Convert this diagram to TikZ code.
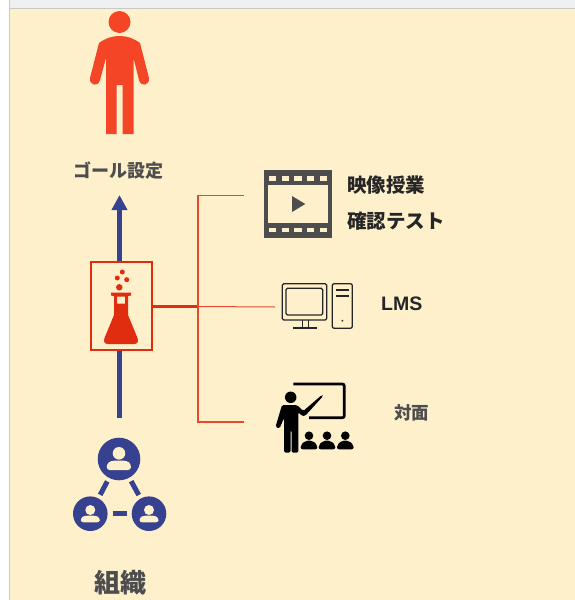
\documentclass[tikz,border=0pt]{standalone}
\usepackage{fontspec}
\setmainfont{Liberation Sans}
\newfontfamily\cjk{Noto Sans CJK JP}
\usetikzlibrary{arrows.meta}
\definecolor{panel}{HTML}{FFF0CC}
\definecolor{edge}{HTML}{C8C8C8}
\definecolor{strip}{HTML}{F0F0F0}
\definecolor{goalred}{HTML}{F44527}
\definecolor{flaskred}{HTML}{E12D0F}
\definecolor{linkred}{HTML}{E8492E}
\definecolor{orgblue}{HTML}{36418F}
\definecolor{ink}{HTML}{4D4D4D}
\tikzset{
    label18/.style={font=\cjk\bfseries\fontsize{18}{18}\selectfont, text=ink, inner sep=0pt},
    label19/.style={font=\cjk\bfseries\fontsize{19.5}{20}\selectfont, text=black!85, inner sep=0pt},
    dot/.style={circle, fill, inner sep=0pt, outer sep=0pt},
    orgdot/.style={dot, fill=orgblue},
    orglink/.style={orgblue, line width=5pt},
    branch/.style={linkred, line width=1.3pt},
    pc/.style={black!85, line width=1.3pt, rounded corners=1.5pt}
}
\begin{document}
\begin{tikzpicture}[x=1pt, y=-1pt]
    \useasboundingbox (0, 0) rectangle (575, 600);
    \fill [white] (0, 0) rectangle (575, 600);
    \fill [strip] (10, 0) rectangle (575, 8);
    \fill [panel] (10, 9) rectangle (575, 600);
    \draw [edge, line width=1pt] (9.5, 0) -- (9.5, 600) (9.5, 8.5) -- (575, 8.5);

    \path (119.5, 22) node [dot, minimum size=22pt, fill=goalred] (head) {};
    \fill [goalred] (99, 43) .. controls (106, 38) and (112, 36) .. (119.5, 36)
        .. controls (127, 36) and (133, 38) .. (140, 43) -- (149, 78)
        .. controls (150, 85) and (141, 88) .. (139, 80) -- (133.5, 58) -- (133.5, 134)
        -- (122.5, 134) -- (122.5, 85) -- (116.5, 85) -- (116.5, 134) -- (106, 134)
        -- (106, 58) -- (100, 80) .. controls (98, 88) and (89, 85) .. (90, 78) -- cycle;
    \path (118.5, 171) node [label18] (goal) {ゴール設定};

    \path (119.5, 418) coordinate (tail) (119.5, 195) coordinate (tip);
    \draw [-{Triangle[length=15pt,width=15pt]}, orgblue, line width=5.5pt] (tail) -- (tip);

    \path (121.5, 306) node [draw=flaskred, fill=panel, line width=1.2pt, minimum width=61pt, minimum height=88pt, outer sep=0pt] (flask) {};
    \path (122.3, 272) node [dot, fill=flaskred, minimum size=5pt] (b1) {};
    \path (117.3, 278) node [dot, fill=flaskred, minimum size=5pt] (b2) {};
    \path (126.7, 279.7) node [dot, fill=flaskred, minimum size=5pt] (b3) {};
    \path (119.3, 287.3) node [dot, fill=flaskred, minimum size=6.5pt] (b4) {};
    \fill [flaskred, even odd rule] (111, 292.5) -- (131, 292.5) -- (131, 295.5) -- (128, 296) -- (128, 315)
        -- (137.5, 338) .. controls (139, 342) and (137, 344) .. (134, 344) -- (108, 344)
        .. controls (105, 344) and (103, 342) .. (104.5, 338) -- (114, 315) -- (114, 296) -- (111, 295.5) -- cycle
        (117, 296.5) -- (125, 296.5) -- (125, 303.5) -- (117, 303.5) -- cycle;

    \path (198, 306.5) coordinate (fork);
    \path (244, 195.5) coordinate (upend) (198, 195.5) coordinate (upcorner);
    \path (244, 422) coordinate (downend) (198, 422) coordinate (downcorner);
    \path (275, 307) coordinate (midend);
    \draw [flaskred, line width=2.5pt] (flask.east |- fork) -- (fork);
    \draw [branch] (upend) -- (upcorner) -- (downcorner) -- (downend);
    \draw [branch, line width=1pt] (fork) -- (midend);

    \path (298, 204) node [fill=ink, minimum width=68pt, minimum height=67.5pt, inner sep=0pt, outer sep=0pt] (film) {};
    \fill [panel] (268.3, 185) rectangle (327.7, 223.3);
    \foreach \x in {268.5, 281.7, 294.3, 306.7, 319.5} {
        \fill [panel] (\x, 176) rectangle +(7.7, 4.7);
        \fill [panel] (\x, 227.7) rectangle +(7.7, 4.7);
    }
    \fill [ink] (292, 196) -- (305.3, 204) -- (292, 212) -- cycle;
    \path (347, 185) node [label19, anchor=west] (video) {映像授業};
    \path (347, 221) node [label19, anchor=west] (test) {確認テスト};

    \draw [pc] (282.3, 283.7) rectangle (326.7, 320);
    \draw [pc] (286, 288.3) rectangle (322.7, 315);
    \draw [pc, rounded corners=0pt] (302.3, 320) -- (302.3, 328) (308.3, 320) -- (308.3, 328) (293, 328) -- (317, 328);
    \draw [pc, rounded corners=2pt] (332.3, 283.7) rectangle (352.3, 328.3);
    \draw [pc, rounded corners=0pt] (336, 290) -- (348.7, 290) (336, 296) -- (348.7, 296);
    \path (342.3, 320.7) node [dot, fill=black!85, minimum size=2pt] (power) {};
    \path (381, 303.5) node [anchor=west, inner sep=0pt, font=\bfseries\fontsize{19.5}{20}\selectfont, text=black!85] (lms) {LMS};

    \draw [black, line width=2.7pt, rounded corners=2pt] (293.3, 384) -- (344.3, 384) -- (344.3, 417.7) -- (309, 417.7);
    \path (290.7, 397.3) node [dot, fill=black, minimum size=11.5pt] (teacher) {};
    \fill [black, rounded corners=1.5pt] (282, 405) -- (297, 405) -- (303.3, 411) -- (322, 394.8) -- (323, 396.2) -- (305, 416) -- (302, 416)
        -- (298.3, 412) -- (298.3, 452.7) -- (291.5, 452.7) -- (291.5, 430) -- (290.5, 430) -- (290.5, 452.7) -- (284, 452.7)
        -- (284, 418) -- (279.5, 428.5) -- (275.5, 427) -- cycle;
    \foreach \x in {309, 327, 345.3} {
        \path (\x, 435.7) node [dot, fill=black, minimum size=8.6pt] {};
        \fill [black, rounded corners=2pt] (\x-8.3, 449.3) -- (\x-8.3, 445) -- (\x-3.5, 440.7) -- (\x+3.5, 440.7) -- (\x+8.3, 445) -- (\x+8.3, 449.3) -- cycle;
    }
    \path (394, 413) node [label18, anchor=west, font=\cjk\bfseries\fontsize{17.5}{18}\selectfont] (face) {対面};

    \path (119, 459) node [orgdot, minimum size=42.6pt] (orgtop) {};
    \path (90.3, 513.7) node [orgdot, minimum size=34.6pt] (orgleft) {};
    \path (149, 513.7) node [orgdot, minimum size=34.6pt] (orgright) {};
    \draw [orglink, shorten <=4pt, shorten >=4pt] (orgtop) -- (orgleft);
    \draw [orglink, shorten <=4pt, shorten >=4pt] (orgtop) -- (orgright);
    \draw [orglink, shorten <=5pt, shorten >=5pt] (orgleft) -- (orgright);
    \path (119, 453.3) node [dot, fill=panel, minimum size=12.6pt] (p1) {};
    \fill [panel, rounded corners=3pt] (106.7, 470) -- (106.7, 464) -- (111, 460.7) -- (127, 460.7) -- (131, 464) -- (131, 470) -- cycle;
    \foreach \x/\name in {90.3/p2, 149/p3} {
        \path (\x, 510) node [dot, fill=panel, minimum size=10pt] (\name) {};
        \fill [panel, rounded corners=2.5pt] (\x-9.5, 522.3) -- (\x-9.5, 518) -- (\x-6, 515.7) -- (\x+6, 515.7) -- (\x+9.5, 518) -- (\x+9.5, 522.3) -- cycle;
    }
    \path (120, 583) node [label18, font=\cjk\bfseries\fontsize{26}{26}\selectfont] (org) {組織};
\end{tikzpicture}
\end{document}
